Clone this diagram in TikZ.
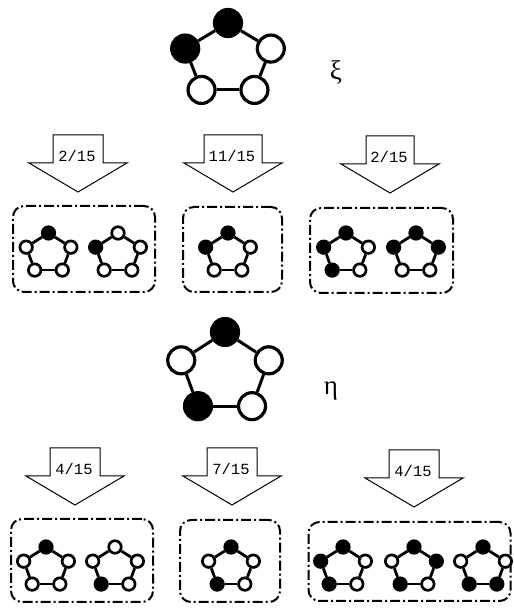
\documentclass[tikz,border=0pt]{standalone}
\usepackage{fontspec}
\usepackage{tikz}
\usetikzlibrary{calc}
\newfontfamily\ratiofont{Liberation Mono}
\newfontfamily\greekfont{Liberation Serif}

% five beads on a ring: name, centre, x radius, y radius, size, fills (top, then anticlockwise)
\newcommand{\ring}[6]{%
  \foreach \f [count=\idx] in {#6}
    \node[#5 bead,fill=\f] (#1-\idx) at ($(#2)+({90+72*(\idx-1)}:#3 and #4)$) {};
  \foreach \idx in {1,...,5}{
    \pgfmathtruncatemacro{\nxt}{mod(\idx,5)+1}
    \draw[#5 bond] (#1-\idx) -- (#1-\nxt);
  }
}
% block arrow: name, tip x, tip y, shaft half width, label
\newcommand{\probarrow}[5]{%
  \coordinate (#1) at (#2,#3);
  \draw[blockarrow] (#1) -- ++(-49,29) -- ++(49-#4,0) -- ++(0,28)
    -- ++(2*#4,0) -- ++(0,-28) -- ++(49-#4,0) -- cycle;
  \node[problabel,anchor=base] (#1-lbl) at ($(#1)+(-1,30.5)$) {#5};
}

\begin{document}
\begin{tikzpicture}[x=1pt,y=1pt,
    big bead/.style={circle,draw,line width=3.2pt,minimum size=27pt,inner sep=0pt},
    small bead/.style={circle,draw,line width=2.7pt,minimum size=12.5pt,inner sep=0pt},
    big bond/.style={line width=3pt},
    small bond/.style={line width=2.8pt},
    blockarrow/.style={draw,line width=1pt,line join=miter,fill=white},
    problabel/.style={font=\fontsize{15.5}{15.5}\selectfont\ratiofont,inner sep=0pt},
    groupbox/.style={draw,line width=2pt,rounded corners=11pt,
                     dash pattern=on 10pt off 3pt on 2pt off 3pt,
                     inner sep=0pt},
    greek/.style={font=\fontsize{27}{27}\selectfont\greekfont,inner sep=0pt}]
  \useasboundingbox (0,0) rectangle (514,608);

  % xi and its three outcomes
  \ring{xi}{228,548}{45}{37}{big}{black,black,white,white,white}
  \node[greek] (xi-sym) at (336,536) {ξ};

  \probarrow{xi-a1}{78}{416}{25}{2/15}
  \probarrow{xi-a2}{233}{416}{29}{11/15}
  \probarrow{xi-a3}{390}{415}{24}{2/15}

  \node[groupbox,minimum width=142pt,minimum height=86pt] (xi-g1) at (84,359) {};
  \node[groupbox,minimum width=99pt,minimum height=85pt] (xi-g2) at (232.5,358.5) {};
  \node[groupbox,minimum width=143pt,minimum height=85pt] (xi-g3) at (381.5,357.5) {};

  \ring{xa}{48.5,354.5}{23.5}{20.5}{small}{black,white,white,white,white}
  \ring{xb}{118,354.5}{23.5}{20.5}{small}{white,black,white,white,white}
  \ring{xc}{228,354.5}{23.5}{20.5}{small}{black,black,white,white,white}
  \ring{xd}{346,354.5}{23.5}{20.5}{small}{black,black,black,white,white}
  \ring{xe}{416,354.5}{23.5}{20.5}{small}{black,black,white,white,black}

  % eta and its three outcomes
  \ring{eta}{225,235}{46}{41}{big}{black,white,black,white,white}
  \node[greek] (eta-sym) at (331,217) {η};

  \probarrow{eta-a1}{75}{103}{25}{4/15}
  \probarrow{eta-a2}{232}{103}{25}{7/15}
  \probarrow{eta-a3}{414}{101}{25}{4/15}

  \node[groupbox,minimum width=142pt,minimum height=83pt] (eta-g1) at (82,47.5) {};
  \node[groupbox,minimum width=100pt,minimum height=82pt] (eta-g2) at (230,47) {};
  \node[groupbox,minimum width=202pt,minimum height=79pt] (eta-g3) at (409.5,46.5) {};

  \ring{ea}{46,40.5}{23.5}{20.5}{small}{black,white,white,white,white}
  \ring{eb}{115,40.5}{23.5}{20.5}{small}{white,white,black,white,white}
  \ring{ec}{231,40.5}{23.5}{20.5}{small}{black,white,black,white,white}
  \ring{ed}{343,40.5}{23.5}{20.5}{small}{black,black,black,white,white}
  \ring{ee}{414,40.5}{23.5}{20.5}{small}{black,white,black,white,black}
  \ring{ef}{483,40.5}{23.5}{20.5}{small}{black,white,black,black,white}
\end{tikzpicture}
\end{document}
